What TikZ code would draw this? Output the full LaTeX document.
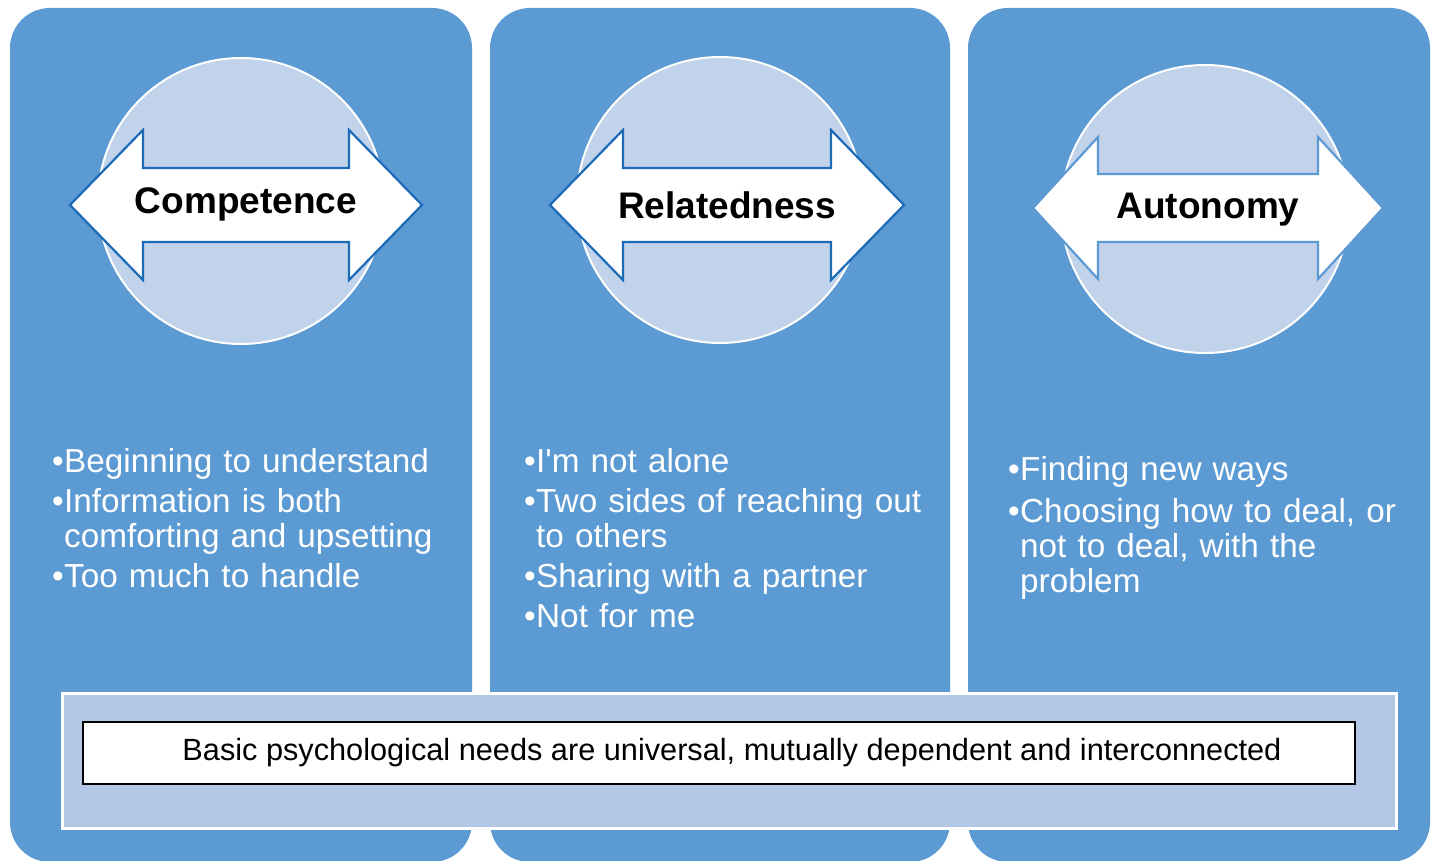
\documentclass[tikz,border=0pt]{standalone}
\usepackage{fontspec}
\setmainfont{Liberation Sans}
\usetikzlibrary{calc}

\definecolor{panelblue}{HTML}{5B9AD2}
\definecolor{circleblue}{HTML}{C0D3EA}
\definecolor{bandblue}{HTML}{B4C7E6}
\definecolor{arrowline}{HTML}{1D6AB8}

\tikzset{
    panel/.style={fill=panelblue, draw=none, rounded corners=40pt},
    disc/.style={fill=circleblue, draw=white, line width=2pt},
    needarrow/.style={fill=white, line width=2.2pt, line join=miter},
    needtitle/.style={font=\fontsize{37}{40}\selectfont\bfseries, text=black, inner sep=0pt},
    bullets/.style={anchor=base west, inner sep=0pt, text=white, align=left,
        text width=410pt, font=\fontsize{33.3}{35}\selectfont},
}
\newcommand{\bitem}[1]{\par\hangindent=12pt\hangafter=1\noindent\makebox[12pt][l]{\textbullet}#1}

\begin{document}
\begin{tikzpicture}[x=1pt, y=-1pt]
    \useasboundingbox[fill=white] (0,0) rectangle (1432,861);

    % three panels
    \fill[panel] (10,8) rectangle (472,862);
    \fill[panel] (490,8) rectangle (950,862);
    \fill[panel] (968,8) rectangle (1430,862);

    % circles behind the arrows
    \draw[disc] (241,201) circle (143);
    \draw[disc] (720,200) circle (143);
    \draw[disc] (1205,209) circle (144);

    % double arrows: centre x, centre y, half length, head length, shaft half, head half, text y, name, label, line colour
    \foreach \cx/\cy/\hl/\hh/\sh/\hd/\ty/\nm/\txt/\col in {
        246/205/176/73/37/75/204/comp/Competence/arrowline,
        727/205/177/73/37/75/205/rel/Relatedness/arrowline,
        1208/208/175/65/34/71/210/aut/Autonomy/panelblue}
    {
        \draw[needarrow, draw=\col]
            (\cx-\hl,\cy) -- ++(\hh,-\hd) -- ++(0,\hd-\sh)
            -- (\cx+\hl-\hh,\cy-\sh) -- ++(0,\sh-\hd) -- (\cx+\hl,\cy)
            -- (\cx+\hl-\hh,\cy+\hd) -- ++(0,\sh-\hd)
            -- (\cx-\hl+\hh,\cy+\sh) -- ++(0,\hd-\sh) -- cycle;
        \node[needtitle] (\nm) at (\cx,\ty) {\txt};
    }

    % bullet lists
    \node[bullets] (comptext) at (52,432) {\setlength{\parskip}{5pt}%
        \bitem{Beginning to understand}
        \bitem{Information is both\newline comforting and upsetting}
        \bitem{Too much to handle}\par};
    \node[bullets] (reltext) at (524,432) {\setlength{\parskip}{5pt}%
        \bitem{I\textquotesingle m not alone}
        \bitem{Two sides of reaching out\newline to others}
        \bitem{Sharing with a partner}
        \bitem{Not for me}\par};
    \node[bullets] (auttext) at (1008,438) {\setlength{\parskip}{7pt}%
        \bitem{Finding new ways}
        \bitem{Choosing how to deal, or\newline not to deal, with the\newline problem}\par};

    % band across the bottom
    \draw[fill=bandblue, draw=white, line width=3pt] (62,693) rectangle (1396,828);
    \node[draw=black, fill=white, line width=1.2pt, minimum width=1272pt, minimum height=62pt,
        inner sep=0pt, font=\fontsize{30.7}{32}\selectfont] (basic) at (719,753)
        {\hspace*{26pt}\raisebox{-3pt}{Basic psychological needs are universal, mutually dependent and interconnected}};
\end{tikzpicture}
\end{document}
